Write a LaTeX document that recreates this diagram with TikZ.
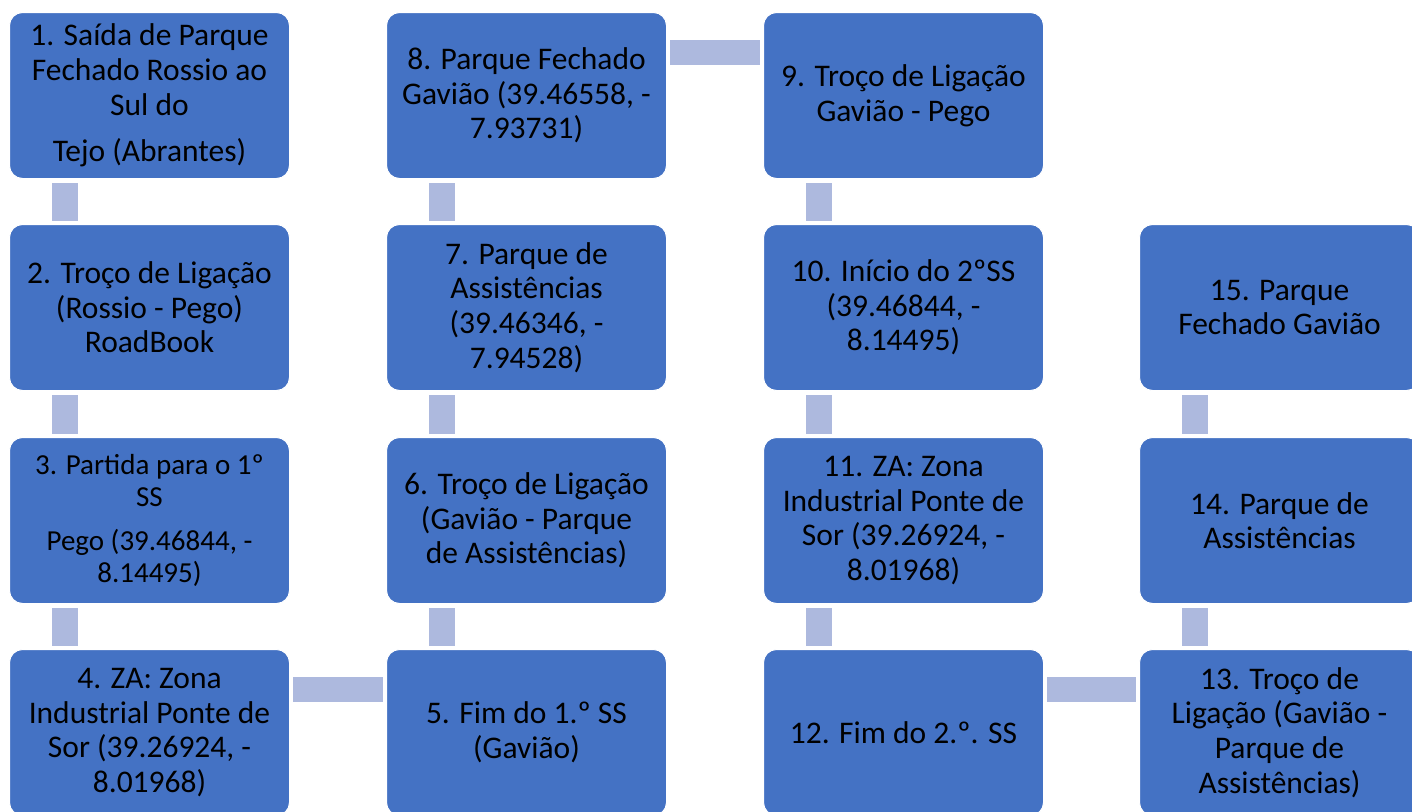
\documentclass[tikz,border=0pt]{standalone}
\usepackage{fontspec}
\setmainfont{Carlito}
\definecolor{boxblue}{HTML}{4472C4}
\definecolor{barblue}{HTML}{ADB9DE}
\begin{document}
\begin{tikzpicture}[x=1pt,y=-1pt,
  stepbox/.style={draw=white, line width=1pt, fill=boxblue, rounded corners=13pt,
    minimum width=280pt, minimum height=166pt, anchor=north west, inner sep=0pt,
    align=center, text=black, font=\fontsize{31.5}{34.6}\selectfont},
  smallbox/.style={stepbox, font=\fontsize{29}{32}\selectfont},
  bar/.style={fill=barblue, draw=none}]
\useasboundingbox (0,0) rectangle (1412,811);
\clip (0,0) rectangle (1412,811);
% column 1
\node[stepbox] (b1) at (9,12) {1. Saída de Parque\\Fechado Rossio ao\\Sul do\\[12pt]Tejo (Abrantes)};
\node[stepbox] (b2) at (9,224) {2. Troço de Ligação\\(Rossio - Pego)\\RoadBook};
\node[smallbox] (b3) at (9,437) {3. Partida para o 1º\\SS\\[12pt]Pego (39.46844, -\\8.14495)};
\node[stepbox] (b4) at (9,649) {4. ZA: Zona\\Industrial Ponte de\\Sor (39.26924, -\\8.01968)};
% column 2
\node[stepbox] (b5) at (386,649) {5. Fim do 1.º SS\\(Gavião)};
\node[stepbox] (b6) at (386,437) {6. Troço de Ligação\\(Gavião - Parque\\de Assistências)};
\node[stepbox] (b7) at (386,224) {7. Parque de\\Assistências\\(39.46346, -\\7.94528)};
\node[stepbox] (b8) at (386,12) {8. Parque Fechado\\Gavião (39.46558, -\\7.93731)};
% column 3
\node[stepbox] (b9) at (763,12) {9. Troço de Ligação\\Gavião - Pego};
\node[stepbox] (b10) at (763,224) {10. Início do 2ºSS\\(39.46844, -\\8.14495)};
\node[stepbox] (b11) at (763,437) {11. ZA: Zona\\Industrial Ponte de\\Sor (39.26924, -\\8.01968)};
\node[stepbox] (b12) at (763,649) {12. Fim do 2.º. SS};
% column 4
\node[stepbox] (b13) at (1139,649) {13. Troço de\\Ligação (Gavião -\\Parque de\\Assistências)};
\node[stepbox] (b14) at (1139,437) {14. Parque de\\Assistências};
\node[stepbox] (b15) at (1139,224) {15. Parque\\Fechado Gavião};
% vertical connectors (top box, bottom box)
\foreach \a/\b in {b1/b2,b2/b3,b3/b4,b8/b7,b7/b6,b6/b5,b9/b10,b10/b11,b11/b12,b15/b14,b14/b13}{
  \fill[bar] ([xshift=43pt,yshift=-4pt]\a.south west) rectangle ([xshift=69pt,yshift=3pt]\b.north west);
}
% horizontal connectors (left box, right box)
\foreach \a/\b in {b4/b5,b8/b9,b12/b13}{
  \fill[bar] ([xshift=3pt,yshift=-28pt]\a.north east) rectangle ([xshift=-3pt,yshift=-53pt]\b.north west);
}
\end{tikzpicture}
\end{document}
